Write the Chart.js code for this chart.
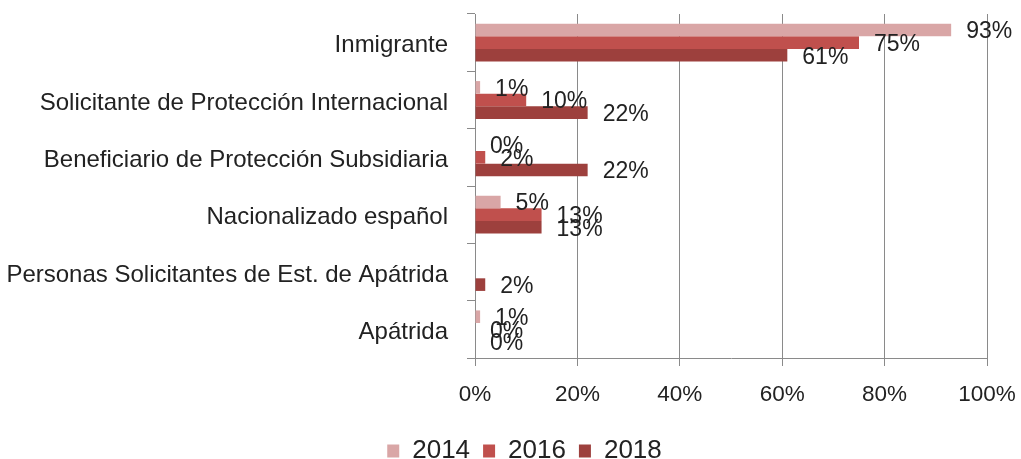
<!DOCTYPE html>
<html>
<head>
<meta charset="utf-8">
<script src="https://cdn.jsdelivr.net/npm/chart.js@4/dist/chart.umd.min.js"></script>
<style>
html,body{margin:0;padding:0;background:#fff;}
#wrap{width:1021px;height:459px;position:relative;}
</style>
</head>
<body>
<div id="wrap"><canvas id="c" width="1021" height="459"></canvas></div>
<script>
const categories = [
  'Inmigrante',
  'Solicitante de Protección Internacional',
  'Beneficiario de Protección Subsidiaria',
  'Nacionalizado español',
  'Personas Solicitantes de Est. de Apátrida',
  'Apátrida'
];
const seriesNames = ['2014', '2016', '2018'];
const values2014 = [93, 1, 0, 5, null, 1];
const values2016 = [75, 10, 2, 13, null, 0];
const values2018 = [61, 22, 22, 13, 2, 0];
const xTicks = [0, 20, 40, 60, 80, 100];

const FONT = 'Liberation Sans';
const TEXT = '#222222';
const GRID = '#8a8a8a';

const dataLabels = {
  id: 'dataLabels',
  afterDatasetsDraw(chart) {
    const ctx = chart.ctx;
    ctx.save();
    ctx.font = '23px "' + FONT + '"';
    ctx.fillStyle = TEXT;
    ctx.textAlign = 'left';
    ctx.textBaseline = 'middle';
    chart.data.datasets.forEach((ds, i) => {
      const meta = chart.getDatasetMeta(i);
      meta.data.forEach((el, j) => {
        const v = ds.data[j];
        if (v === null || v === undefined) return;
        ctx.fillText(v + '%', el.x + 15, el.y + 2);
      });
    });
    ctx.restore();
  }
};

// centre the legend under the plot area rather than the whole canvas
const legendShift = {
  id: 'legendShift',
  afterLayout(chart) {
    if (chart.legend) {
      chart.legend.left += 31;
      chart.legend.right += 31;
    }
  }
};

new Chart(document.getElementById('c'), {
  type: 'bar',
  data: {
    labels: categories,
    datasets: [
      { label: seriesNames[0], data: values2014, backgroundColor: '#D9A6A6' },
      { label: seriesNames[1], data: values2016, backgroundColor: '#C0504D' },
      { label: seriesNames[2], data: values2018, backgroundColor: '#9D403D' }
    ]
  },
  options: {
    indexAxis: 'y',
    responsive: false,
    animation: false,
    devicePixelRatio: 1,
    categoryPercentage: 0.66,
    barPercentage: 1,
    layout: { padding: { top: 14, right: 34, left: 0, bottom: -15 } },
    plugins: {
      tooltip: { enabled: false },
      legend: {
        position: 'bottom',
        labels: {
          font: { family: FONT, size: 26 },
          color: TEXT,
          boxWidth: 12,
          boxHeight: 13,
          padding: 13
        }
      }
    },
    scales: {
      x: {
        min: 0, max: 100,
        afterBuildTicks(scale) { scale.ticks = xTicks.map(v => ({ value: v })); },
        afterFit(scale) { scale.height = 67; scale.paddingLeft = 0; scale.paddingRight = 0; },
        ticks: {
          callback: v => v + '%',
          font: { family: FONT, size: 22.5 },
          color: TEXT,
          padding: 15
        },
        grid: { color: GRID, tickLength: 8, lineWidth: 1 },
        border: { color: GRID, width: 1 }
      },
      y: {
        afterFit(scale) { scale.width = 475; scale.paddingTop = 0; scale.paddingBottom = 0; },
        ticks: {
          font: { family: FONT, size: 24 },
          color: TEXT,
          padding: 19,
          labelOffset: 3,
          autoSkip: false
        },
        grid: { offset: true, drawOnChartArea: false, tickLength: 8, color: GRID },
        border: { color: GRID, width: 1 }
      }
    }
  },
  plugins: [dataLabels, legendShift]
});
</script>
</body>
</html>
